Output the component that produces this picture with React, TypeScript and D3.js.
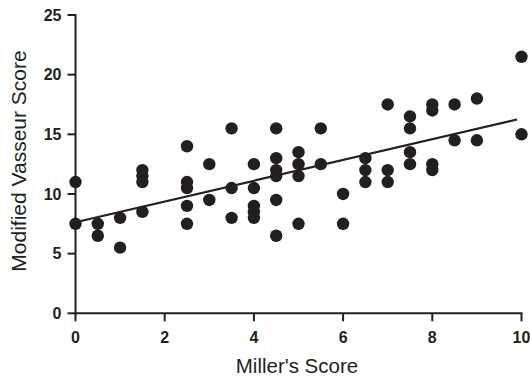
import React from 'react';
import * as d3 from 'd3';

// Miller's score groups and the Vasseur scores read at each one
const millerScores = [0, 0.5, 1, 1.5, 2.5, 3, 3.5, 4, 4.5, 5, 5.5, 6, 6.5, 7, 7.5, 8, 8.5, 9, 10];
const vasseurScores = [
  [11, 7.5],
  [7.5, 6.5],
  [8, 5.5],
  [12, 11.5, 11, 8.5],
  [14, 11, 10.5, 9, 7.5],
  [12.5, 9.5],
  [15.5, 10.5, 8],
  [12.5, 10.5, 9, 8.5, 8],
  [15.5, 13, 12, 11.5, 9.5, 6.5],
  [13.5, 12.5, 11.5, 7.5],
  [15.5, 12.5],
  [10, 7.5],
  [13, 12, 11],
  [17.5, 12, 11],
  [16.5, 15.5, 13.5, 12.5],
  [17.5, 17, 12.5, 12],
  [17.5, 14.5],
  [18, 14.5],
  [21.5, 15],
];
const xTicks = [0, 2, 4, 6, 8, 10];
const yTicks = [0, 5, 10, 15, 20, 25];

const W = 530;
const H = 378;
const left = 75.5;
const right = 521.5;
const top = 15;
const bottom = 313.3;
const ink = '#231f20';
const font = 'Arial, "Liberation Sans", Helvetica, sans-serif';

const App = () => {
  const points = millerScores.flatMap((x, i) => vasseurScores[i].map(y => ({ x, y })));

  const x = d3.scaleLinear().domain([0, 10]).range([left, right]);
  const y = d3.scaleLinear().domain([0, 25]).range([bottom, top]);

  // least squares fit
  const mx = d3.mean(points, d => d.x) as number;
  const my = d3.mean(points, d => d.y) as number;
  const sxy = d3.sum(points, d => (d.x - mx) * (d.y - my));
  const sxx = d3.sum(points, d => (d.x - mx) * (d.x - mx));
  const slope = sxy / sxx;
  const icpt = my - slope * mx;
  const [x0, x1] = d3.extent(points, d => d.x) as [number, number];
  const fit = d3.line<number>().x(v => x(v)).y(v => y(icpt + slope * v));

  return (
    <svg width={W} height={H} style={{ position: 'absolute', left: 0, top: 0, background: '#fff' }}>
      <g fill={ink}>
        {points.map((p, i) => (
          <circle key={i} cx={x(p.x)} cy={y(p.y)} r={6.2} />
        ))}
      </g>
      <path d={fit([x0, x1 - 0.1]) || ''} stroke={ink} strokeWidth={2.2} fill="none" />

      {/* axes */}
      <g stroke={ink} strokeWidth={2} fill="none">
        <line x1={left} x2={left} y1={top - 1} y2={bottom + 1} />
        <line x1={left - 1} x2={right + 1} y1={bottom} y2={bottom} />
        {yTicks.map(t => (
          <line key={t} x1={left - 8} x2={left} y1={y(t)} y2={y(t)} />
        ))}
        {xTicks.map(t => (
          <line key={t} x1={x(t)} x2={x(t)} y1={bottom} y2={bottom + 8} />
        ))}
      </g>
      <g fill={ink} fontFamily={font} fontWeight="bold" fontSize={16}>
        {yTicks.map(t => (
          <text key={t} x={left - 14} y={y(t)} dy="0.36em" textAnchor="end">{t}</text>
        ))}
        {xTicks.map(t => (
          <text key={t} x={x(t)} y={bottom + 30} textAnchor="middle">{t}</text>
        ))}
      </g>
      <text x={297} y={373} textAnchor="middle" fontFamily={font} fontSize={20.5} fill={ink}>
        Miller's Score
      </text>
      <text
        transform={`translate(26,161) rotate(-90)`}
        textAnchor="middle"
        fontFamily={font}
        fontSize={21}
        fill={ink}
      >
        Modified Vasseur Score
      </text>
    </svg>
  );
};

export default App;
